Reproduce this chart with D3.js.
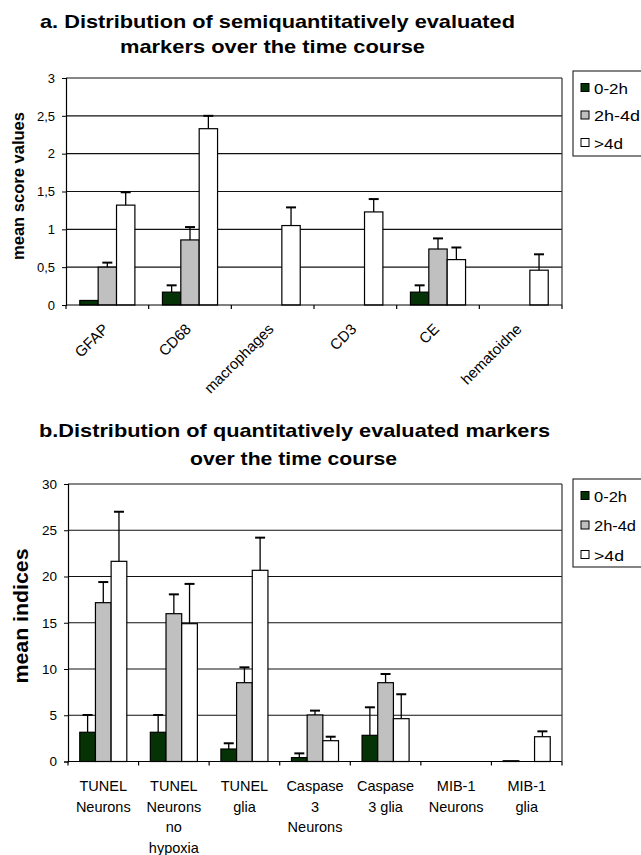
<!DOCTYPE html>
<html><head><meta charset="utf-8">
<script src="https://cdn.jsdelivr.net/npm/d3@7"></script>
<style>
html,body{margin:0;padding:0;background:#fff;}
text{font-family:"Liberation Sans",Arial,sans-serif;fill:#000;}
</style></head>
<body><svg id="c" width="641" height="855"></svg>
<script>
// ---------- data ----------
const seriesNames = ["0-2h", "2h-4d", ">4d"];
const seriesColors = ["#063306", "#c0c0c0", "#ffffff"];

// Chart a
const catsA = ["GFAP", "CD68", "macrophages", "CD3", "CE", "hematoidne"];
const a_0_2h  = [0.06, 0.17, 0, 0, 0.17, 0];
const a_2h_4d = [0.50, 0.86, 0, 0, 0.74, 0];
const a_gt4d  = [1.32, 2.33, 1.05, 1.23, 0.60, 0.46];
const aErr_0_2h  = [0, 0.09, 0, 0, 0.09, 0];
const aErr_2h_4d = [0.06, 0.17, 0, 0, 0.14, 0];
const aErr_gt4d  = [0.17, 0.17, 0.24, 0.17, 0.16, 0.21];
const ticksA = [0, 0.5, 1, 1.5, 2, 2.5, 3];

// Chart b
const catsB = [["TUNEL","Neurons"], ["TUNEL","Neurons","no","hypoxia"], ["TUNEL","glia"],
               ["Caspase","3","Neurons"], ["Caspase","3 glia"], ["MIB-1","Neurons"], ["MIB-1","glia"]];
const b_0_2h  = [3.16, 3.16, 1.35, 0.42, 2.83, 0, 0.08];
const b_2h_4d = [17.17, 15.98, 8.52, 5.03, 8.52, 0, 0];
const b_gt4d  = [21.64, 14.9, 20.67, 2.25, 4.63, 0, 2.68];
const bErr_0_2h  = [1.87, 1.87, 0.62, 0.46, 3.03, 0, 0];
const bErr_2h_4d = [2.23, 2.09, 1.66, 0.47, 0.94, 0, 0];
const bErr_gt4d  = [5.36, 4.3, 3.53, 0.43, 2.64, 0, 0.58];
const ticksB = [0, 5, 10, 15, 20, 25, 30];

const svg = d3.select("#c");

function drawChart(cfg) {
  const g = svg.append("g");
  const catIds = cfg.cats.map((c, i) => i);
  const x0 = d3.scaleBand().domain(catIds).range([cfg.left, cfg.right]).padding(0);
  const bw = x0.bandwidth();
  const x1 = d3.scaleBand().domain(d3.range(3)).range([bw / 6, bw * 5 / 6]).padding(0);
  const y = d3.scaleLinear().domain([0, cfg.max]).range([cfg.bottom, cfg.top]);

  // gridlines
  g.selectAll(".grid").data(cfg.ticks.filter(t => t > 0)).join("line")
    .attr("x1", cfg.left).attr("x2", cfg.right)
    .attr("y1", d => y(d)).attr("y2", d => y(d))
    .attr("stroke", "#111").attr("stroke-width", 1.2);
  // right border
  g.append("line").attr("x1", cfg.right).attr("x2", cfg.right)
    .attr("y1", cfg.top).attr("y2", cfg.bottom).attr("stroke", "#333").attr("stroke-width", 1.2);

  // bars
  const vals = cfg.values, errs = cfg.errors;
  catIds.forEach(ci => {
    for (let s = 0; s < 3; s++) {
      const v = vals[s][ci];
      if (v <= 0) continue;
      const bx = x0(ci) + x1(s);
      g.append("rect").attr("x", bx).attr("y", y(v))
        .attr("width", x1.bandwidth()).attr("height", y(0) - y(v))
        .attr("fill", seriesColors[s]).attr("stroke", "#000").attr("stroke-width", 1.2);
      const e = errs[s][ci];
      if (e > 0) {
        const cx = bx + x1.bandwidth() / 2;
        g.append("line").attr("x1", cx).attr("x2", cx).attr("y1", y(v)).attr("y2", y(v + e))
          .attr("stroke", "#000").attr("stroke-width", 1.3);
        g.append("line").attr("x1", cx - 5).attr("x2", cx + 5).attr("y1", y(v + e)).attr("y2", y(v + e))
          .attr("stroke", "#000").attr("stroke-width", 2);
      }
    }
  });

  // y axis
  const ya = d3.axisLeft(y).tickValues(cfg.ticks).tickSize(4).tickPadding(7)
    .tickFormat(d => String(d).replace(".", ","));
  const yg = g.append("g").attr("transform", `translate(${cfg.left},0)`).call(ya);
  yg.select(".domain").attr("stroke", "#000").attr("stroke-width", 1.2);
  yg.selectAll(".tick line").attr("stroke", "#000");
  yg.selectAll("text").style("font-size", cfg.tickFont + "px").attr("fill", "#000");

  // x axis line + category boundary ticks
  g.append("line").attr("x1", cfg.left).attr("x2", cfg.right).attr("y1", y(0)).attr("y2", y(0))
    .attr("stroke", "#000").attr("stroke-width", 1.2);
  const bounds = catIds.map(ci => x0(ci)).concat([cfg.right]);
  g.selectAll(".xt").data(bounds).join("line")
    .attr("x1", d => d).attr("x2", d => d).attr("y1", y(0)).attr("y2", y(0) + 4)
    .attr("stroke", "#000").attr("stroke-width", 1.2);

  // y title
  g.append("text").attr("transform", `translate(${cfg.yTitleX},${cfg.yTitleY}) rotate(-90)`)
    .attr("text-anchor", "middle").style("font-size", cfg.yTitleFont + "px").style("font-weight", "bold")
    .attr("textLength", cfg.yTitleLen).attr("lengthAdjust", "spacingAndGlyphs")
    .text(cfg.yTitle);

  // legend
  const lg = g.append("g");
  lg.append("rect").attr("x", cfg.legX).attr("y", cfg.legY).attr("width", 80).attr("height", cfg.legH)
    .attr("fill", "#fff").attr("stroke", "#333").attr("stroke-width", 1.2);
  seriesNames.forEach((n, i) => {
    const ly = cfg.legY + 17 + i * cfg.legStep;
    lg.append("rect").attr("x", cfg.legX + 8).attr("y", ly - 4.5).attr("width", 8).attr("height", 8)
      .attr("fill", seriesColors[i]).attr("stroke", "#000").attr("stroke-width", 1);
    lg.append("text").attr("x", cfg.legX + 21).attr("y", ly + 5.5).style("font-size", "15px")
      .attr("textLength", cfg.legLens[i]).attr("lengthAdjust", "spacingAndGlyphs").text(n);
  });

  return {x0, y};
}

// ----- chart a -----
const A = drawChart({
  cats: catsA, values: [a_0_2h, a_2h_4d, a_gt4d], errors: [aErr_0_2h, aErr_2h_4d, aErr_gt4d],
  left: 66, right: 562, top: 78, bottom: 305, max: 3, ticks: ticksA, tickFont: 13,
  yTitle: "mean score values", yTitleX: 24, yTitleY: 186, yTitleFont: 17, yTitleLen: 148,
  legX: 573, legY: 71, legH: 85, legStep: 27.5, legLens: [34, 46, 29]
});
svg.append("g").selectAll("text").data(catsA).join("text")
  .attr("transform", (d, i) => `translate(${A.x0(i) + A.x0.bandwidth() / 2 + 2},330) rotate(-45)`)
  .attr("text-anchor", "end").style("font-size", "15px").text(d => d);

// ----- chart b -----
const B = drawChart({
  cats: catsB, values: [b_0_2h, b_2h_4d, b_gt4d], errors: [bErr_0_2h, bErr_2h_4d, bErr_gt4d],
  left: 68, right: 562, top: 484, bottom: 761.5, max: 30, ticks: ticksB, tickFont: 13.5,
  yTitle: "mean indices", yTitleX: 28, yTitleY: 616, yTitleFont: 20, yTitleLen: 135,
  legX: 573, legY: 479, legH: 88, legStep: 29.5, legLens: [33, 42, 30]
});
const xl = svg.append("g");
catsB.forEach((lines, i) => {
  const t = xl.append("text").attr("text-anchor", "middle").style("font-size", "14.5px");
  lines.forEach((ln, j) => {
    t.append("tspan").attr("x", B.x0(i) + B.x0.bandwidth() / 2).attr("y", 791 + j * 20.5).text(ln);
  });
});

// ----- titles -----
const titles = [
  {t: "a. Distribution of semiquantitatively evaluated", x: 40, y: 28, w: 475},
  {t: "markers over the time course", x: 120, y: 53, w: 305},
  {t: "b.Distribution of quantitatively evaluated markers", x: 39, y: 437, w: 511},
  {t: "over the time course", x: 190, y: 465, w: 207}
];
svg.append("g").selectAll("text").data(titles).join("text")
  .attr("x", d => d.x).attr("y", d => d.y).attr("textLength", d => d.w)
  .attr("lengthAdjust", "spacingAndGlyphs")
  .style("font-size", "19px").style("font-weight", "bold").text(d => d.t);
</script></body></html>
